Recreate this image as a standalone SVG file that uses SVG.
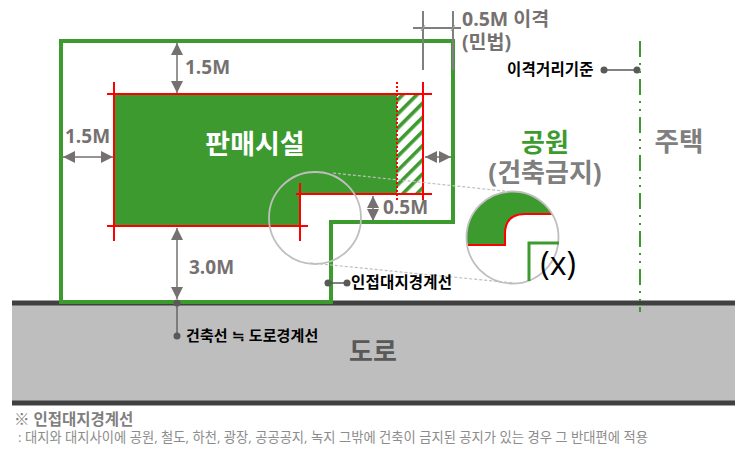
<svg xmlns="http://www.w3.org/2000/svg" width="738" height="455" viewBox="0 0 738 455">
<style>
text{font-family:"Open Sans","Noto Sans CJK KR",sans-serif}
.g{fill:#767171;font-weight:700}
.k{fill:#000;font-weight:700;font-size:15.5px;letter-spacing:.2px}
.red{stroke:#f00;stroke-width:2;fill:none}
.dim{stroke:#767171;stroke-width:1.5;fill:none;marker-start:url(#a);marker-end:url(#a)}
.lead{stroke:#595959;stroke-width:1.3;fill:none}
.dot{fill:#595959}
.dash{stroke:#bfbfbf;stroke-width:1.2;stroke-dasharray:3 2;fill:none}
.lens{stroke:#bfbfbf;stroke-width:1.8;fill:none}
.tick{stroke:#7f7f7f;stroke-width:2;fill:none}
</style>
<defs>
<marker id="a" markerUnits="userSpaceOnUse" markerWidth="12" markerHeight="12" refX="12" refY="6" viewBox="0 0 12 12" orient="auto-start-reverse"><path d="M0 0L12 6L0 12z" fill="#767171"/></marker>
<pattern id="h" patternUnits="userSpaceOnUse" width="10" height="10" patternTransform="rotate(-45)"><rect width="10" height="10" fill="#fff"/><rect width="10" height="3.6" fill="#3c9a2e"/></pattern>
<clipPath id="c"><circle cx="512.5" cy="237.5" r="46"/></clipPath>
</defs>
<g id="road">
<rect x="12" y="304" width="723" height="99" fill="#bebebe"/>
<path d="M12 303H735M12 403H735" stroke="#404040" stroke-width="5" fill="none"/>
<text x="373" y="361" font-size="26" class="g" style="fill:#595959" text-anchor="middle">도로</text>
</g>
<g id="site"><path d="M61 41H453V222H331V302H61Z" fill="none" stroke="#3c9a2e" stroke-width="4"/></g>
<g id="building">
<path d="M114 94H397V194H300V226H114Z" fill="#3c9a2e"/>
<rect x="397" y="95" width="26" height="99" fill="url(#h)"/>
<path class="red" d="M114 82V241M107 94H432M423 82V200M296 194H432M300 183V241M107 226H308"/>
<path d="M397 82V200" stroke="#f00" stroke-width="2" stroke-dasharray="2 2" fill="none"/>
<text x="255" y="154" font-size="27" font-weight="700" fill="#fff" text-anchor="middle">판매시설</text>
</g>
<g id="connectors">
<path class="dim" d="M177 43V93"/>
<path class="dim" d="M63 157H113"/>
<path class="dim" d="M177 228V299"/>
<path class="dim" d="M425 157H451"/>
<path class="dim" d="M373 196V221"/>
<path class="tick" d="M423 11V70M453 11V70M413 28H461"/>
<path d="M421 31L425 25M451 31L455 25" stroke="#a6a6a6" stroke-width="1" fill="none"/>
<path class="lead" d="M177 303V336M328 283H347M604 70H637"/>
<circle class="dot" cx="177" cy="303" r="3.5"/><circle class="dot" cx="177" cy="336" r="3.5"/>
<circle class="dot" cx="328" cy="283" r="3.5"/><circle class="dot" cx="347" cy="283" r="3.5"/>
<circle class="dot" cx="604" cy="70" r="3.5"/><circle class="dot" cx="637" cy="70" r="3.5"/>
<path class="dash" d="M333 173L513 192M310 263L513 283"/>
</g>
<g id="boundary"><path d="M640 41V312" stroke="#3c9a2e" stroke-width="2" stroke-dasharray="16 6 2 6 2 6" fill="none"/></g>
<g id="lens-left"><circle class="lens" cx="315" cy="218" r="46"/></g>
<g id="lens-right">
<g clip-path="url(#c)"><path d="M460 185H565V214H525Q505 214 505 234V245H460Z" fill="#3c9a2e"/>
<path d="M460 245H505V234Q505 214 525 214H553" fill="none" stroke="#f00" stroke-width="2"/></g>
<circle class="lens" cx="512.5" cy="237.5" r="46"/>
<path d="M529 281V243H559" fill="none" stroke="#3c9a2e" stroke-width="3"/>
<text x="558" y="275" font-size="32" fill="#000" text-anchor="middle">(x)</text>
</g>
<g id="labels">
<text x="185" y="74" font-size="19" class="g">1.5M</text>
<text x="65" y="143" font-size="19" class="g">1.5M</text>
<text x="189" y="274" font-size="19" class="g">3.0M</text>
<text x="383" y="214" font-size="19" class="g">0.5M</text>
<text x="462" y="26" font-size="19.5" class="g">0.5M 이격</text>
<text x="462" y="49" font-size="19.5" class="g">(민법)</text>
<text x="545" y="152" font-size="26" font-weight="700" fill="#3c9a2e" text-anchor="middle">공원</text>
<text x="545" y="182" font-size="26" class="g" style="fill:#7f7f7f" text-anchor="middle">(건축금지)</text>
<text x="679" y="151" font-size="26.5" class="g" style="fill:#7f7f7f" text-anchor="middle">주택</text>
<text x="507" y="75" class="k">이격거리기준</text>
<text x="351" y="288" class="k">인접대지경계선</text>
<text x="186" y="341" class="k" style="font-size:15px;letter-spacing:.1px">건축선 ≒ 도로경계선</text>
<text x="14" y="425" font-size="15.5" font-weight="700" fill="#7f7f7f">※ 인접대지경계선</text>
<text x="18" y="442" font-size="13.3" fill="#8c8c8c">: 대지와 대지사이에 공원, 철도, 하천, 광장, 공공공지, 녹지 그밖에 건축이 금지된 공지가 있는 경우 그 반대편에 적용</text>
</g>
</svg>
